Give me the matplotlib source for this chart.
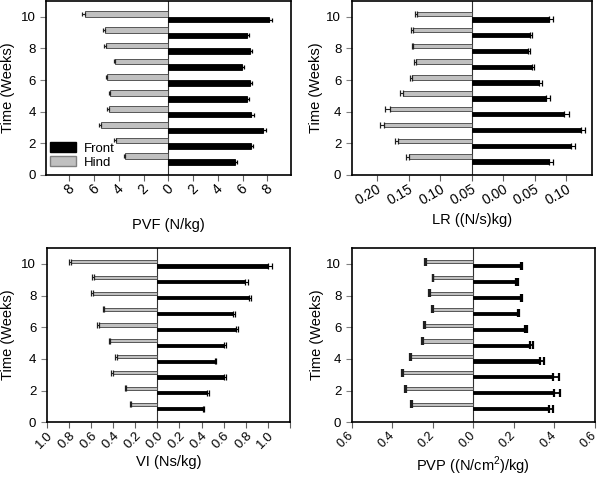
import numpy as np
import matplotlib.pyplot as plt
from matplotlib.patches import Patch
from matplotlib.transforms import ScaledTranslation

plt.rcParams['font.family'] = ['Liberation Sans', 'DejaVu Sans']
plt.rcParams['mathtext.fontset'] = 'custom'
plt.rcParams['mathtext.rm'] = 'Liberation Sans'

weeks = np.arange(1, 11)

# peak vertical force (N/kg), weeks 1..10
pvf_hind = [3.47, 4.25, 5.42, 4.80, 4.69, 4.93, 4.28, 5.07, 5.15, 6.78]
pvf_hind_err = [0.14, 0.15, 0.20, 0.15, 0.15, 0.15, 0.12, 0.15, 0.15, 0.20]
pvf_front = [5.42, 6.67, 7.67, 6.69, 6.40, 6.59, 5.99, 6.59, 6.37, 8.18]
pvf_front_err = [0.15, 0.15, 0.20, 0.20, 0.15, 0.15, 0.12, 0.15, 0.15, 0.19]

# loading rate
lr_hind = [0.099, 0.116, 0.139, 0.130, 0.109, 0.094, 0.0875, 0.0922, 0.0922, 0.0859]
lr_hind_err = [0.005, 0.005, 0.007, 0.007, 0.005, 0.004, 0.004, 0.003, 0.004, 0.004]
lr_front = [0.123, 0.157, 0.173, 0.146, 0.117, 0.106, 0.0953, 0.0885, 0.0917, 0.123]
lr_front_err = [0.006, 0.006, 0.007, 0.008, 0.007, 0.005, 0.004, 0.003, 0.004, 0.005]

# vertical impulse (Ns/kg)
vi_hind = [0.237, 0.281, 0.404, 0.365, 0.431, 0.530, 0.479, 0.584, 0.575, 0.778]
vi_hind_err = [0.012, 0.012, 0.012, 0.015, 0.010, 0.015, 0.015, 0.015, 0.015, 0.021]
vi_front = [0.413, 0.449, 0.599, 0.518, 0.599, 0.713, 0.683, 0.832, 0.793, 1.000]
vi_front_err = [0.012, 0.015, 0.024, 0.015, 0.018, 0.020, 0.024, 0.018, 0.030, 0.033]

# peak vertical pressure ((N/cm2)/kg)
pvp_hind = [0.302, 0.332, 0.345, 0.306, 0.248, 0.237, 0.200, 0.214, 0.197, 0.233]
pvp_hind_err = [0.008, 0.007, 0.008, 0.007, 0.005, 0.005, 0.004, 0.004, 0.004, 0.005]
pvp_front = [0.375, 0.400, 0.395, 0.330, 0.280, 0.255, 0.220, 0.235, 0.212, 0.235]
pvp_front_err = [0.020, 0.025, 0.027, 0.020, 0.013, 0.010, 0.006, 0.006, 0.006, 0.006]

pvf_ticks = [-8, -6, -4, -2, 0, 2, 4, 6, 8]
pvf_labels = ['8', '6', '4', '2', '0', '2', '4', '6', '8']
lr_ticks = [-0.15, -0.10, -0.05, 0, 0.05, 0.10, 0.15]
lr_labels = ['0.20', '0.15', '0.10', '0.05', '0.00', '0.05', '0.10']
vi_ticks = [-1.0, -0.8, -0.6, -0.4, -0.2, 0, 0.2, 0.4, 0.6, 0.8, 1.0, 1.2]
vi_labels = ['1.0', '0.8', '0.6', '0.4', '0.2', '0.0', '0.2', '0.4', '0.6', '0.8', '1.0', '']
pvp_ticks = [-0.6, -0.4, -0.2, 0, 0.2, 0.4, 0.6]
pvp_labels = ['0.6', '0.4', '0.2', '0.0', '0.2', '0.4', '0.6']

HIND = '#c0c0c0'
EDGE = '#404040'


def panel(ax, hind, hind_err, front, front_err, off, h, cap, capthick=0.9, elw=0.8):
    hind = np.array(hind)
    front = np.array(front)
    ax.barh(weeks + off, -hind, height=h, color=HIND, edgecolor=EDGE, linewidth=0.6)
    ax.barh(weeks - off, front, height=h, color='black', edgecolor='black', linewidth=0.6)
    ax.errorbar(-hind, weeks + off, xerr=[hind_err, np.zeros(10)], fmt='none',
                ecolor='#202020', elinewidth=elw, capsize=cap, capthick=capthick)
    ax.errorbar(front, weeks - off, xerr=[np.zeros(10), front_err], fmt='none',
                ecolor='black', elinewidth=elw, capsize=cap, capthick=capthick)
    ax.axvline(0, color='#303030', linewidth=0.8, zorder=0.5)
    ax.set_ylim(0, 11)
    ax.set_yticks([0, 2, 4, 6, 8, 10])
    ax.tick_params(axis='y', labelsize=9.5, length=4, color='#808080')
    ax.tick_params(axis='x', length=4, pad=1, color='#606060')
    for s in ax.spines.values():
        s.set_linewidth(1.2)
    ax.set_ylabel('Time (Weeks)', fontsize=10.5)


fig = plt.figure(figsize=(6, 4.79), dpi=100)
ax1 = fig.add_axes([0.0767, 0.6347, 0.4078, 0.3633])
ax2 = fig.add_axes([0.5862, 0.6347, 0.4000, 0.3633])
ax3 = fig.add_axes([0.0778, 0.1184, 0.4055, 0.3639])
ax4 = fig.add_axes([0.5862, 0.1184, 0.4055, 0.3639])

panel(ax1, pvf_hind, pvf_hind_err, pvf_front, pvf_front_err, 0.18, 0.36, 1.6)
ax1.set_xlim(-9.9, 9.9)
ax1.set_xticks(pvf_ticks)
ax1.set_xticklabels(pvf_labels, rotation=45, ha='center', fontsize=10)
ax1.set_xlabel('PVF (N/kg)', fontsize=10.5)
ax1.xaxis.set_label_coords(0.5, -0.25)
ax1.yaxis.set_label_coords(-0.127, 0.5)
ax1.legend(handles=[Patch(facecolor='black', edgecolor='black', label='Front'),
                    Patch(facecolor=HIND, edgecolor='#808080', label='Hind')],
           loc='lower left', bbox_to_anchor=(0.015, 0.035), frameon=False,
           fontsize=9.5, labelspacing=0.1, handlelength=2.0, handleheight=0.8,
           handletextpad=0.6, borderaxespad=0, borderpad=0)

panel(ax2, lr_hind, lr_hind_err, lr_front, lr_front_err, 0.16, 0.28, 2.0)
ax2.set_xlim(-0.19, 0.19)
ax2.set_xticks(lr_ticks)
ax2.set_xticklabels(lr_labels, rotation=30, ha='right', rotation_mode='anchor', fontsize=10)
ax2.set_xlabel('LR ((N/s)kg)', fontsize=10.5)
ax2.xaxis.set_label_coords(0.5, -0.22)
ax2.yaxis.set_label_coords(-0.118, 0.5)

panel(ax3, vi_hind, vi_hind_err, vi_front, vi_front_err, 0.14, 0.2, 2.3)
ax3.set_xlim(-1.0, 1.2)
ax3.set_xticks(vi_ticks)
ax3.set_xticklabels(vi_labels, rotation=45, ha='right', rotation_mode='anchor', fontsize=9.5)
ax3.set_xlabel('VI (Ns/kg)', fontsize=10.5)
ax3.xaxis.set_label_coords(0.5, -0.188)
ax3.yaxis.set_label_coords(-0.13, 0.5)

panel(ax4, pvp_hind, pvp_hind_err, pvp_front, pvp_front_err, 0.13, 0.2, 2.6,
      capthick=1.6, elw=1.3)
ax4.set_xlim(-0.6, 0.6)
ax4.set_xticks(pvp_ticks)
ax4.set_xticklabels(pvp_labels, rotation=45, ha='right', rotation_mode='anchor', fontsize=9)
# nudge labels a little left so the last one stays inside the figure
shift = ScaledTranslation(-3 / 72, 0, fig.dpi_scale_trans)
for lbl in ax4.get_xticklabels():
    lbl.set_transform(lbl.get_transform() + shift)
ax4.set_xlabel(r'PVP ((N/cm$^{2}$)/kg)', fontsize=10.5)
ax4.xaxis.set_label_coords(0.5, -0.188)
ax4.yaxis.set_label_coords(-0.114, 0.5)

fig.savefig('out.png', dpi=100)
